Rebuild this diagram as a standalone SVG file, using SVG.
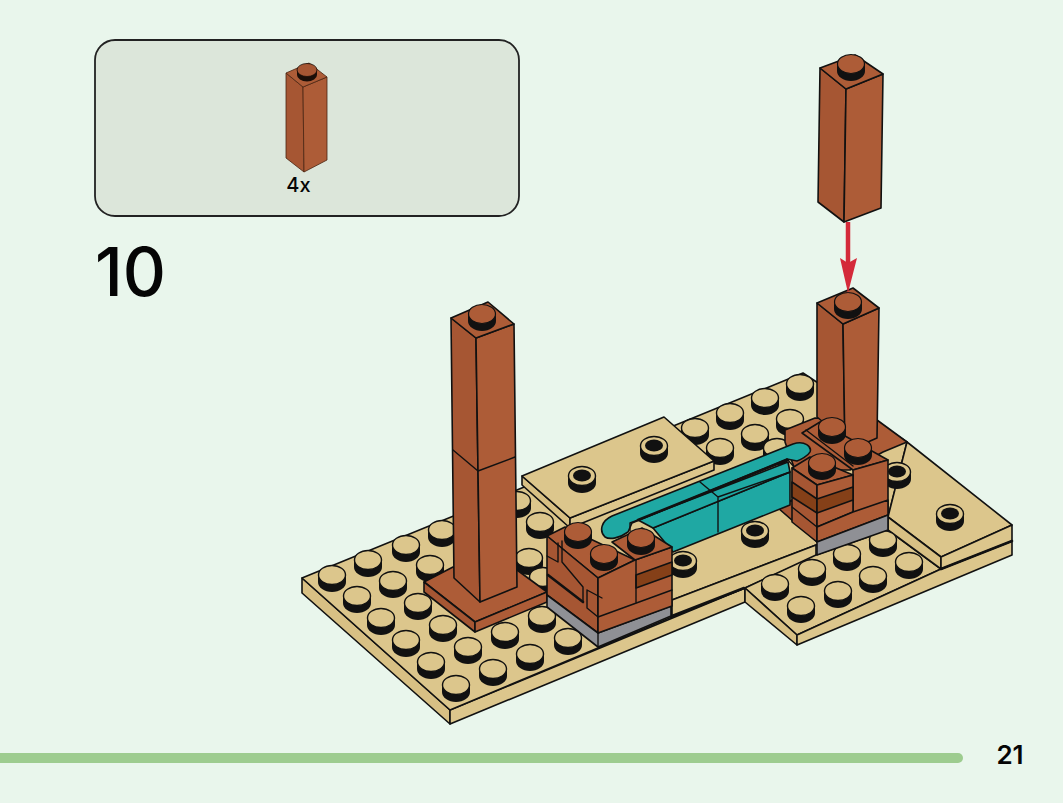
<svg xmlns="http://www.w3.org/2000/svg" width="1063" height="803" viewBox="0 0 1063 803">
<style>
.t{fill:#dcc68c}.ts{fill:#d8c084}.b{fill:#ad5c37}.bl{fill:#a65633}.bd{fill:#854018}.g{fill:#8f9095}.c{fill:#1fa8a3}
polygon,path.o{stroke:#111;stroke-width:1.6;stroke-linejoin:round}
.l{fill:none;stroke:#111;stroke-width:1.4;stroke-linecap:round;stroke-linejoin:round}
.h{fill:none;stroke:#111;stroke-width:2.6;stroke-linecap:round}
text{font-family:Inter,"Liberation Sans",sans-serif;fill:#050505}
</style>
<defs>
<g id="stud"><path d="M-14 0V7A14 10 0 0 0 14 7V0Z" fill="#111"/><ellipse rx="13.500" ry="9.500" fill="#dcc68c" stroke="#111" stroke-width="1.400"/></g>
<g id="tube"><path d="M-14 0V7A14 10 0 0 0 14 7V0Z" fill="#111"/><ellipse rx="13.500" ry="9.500" fill="#dcc68c" stroke="#111" stroke-width="1.400"/><ellipse cy="-.5" rx="9" ry="6" fill="#111"/></g>
<g id="bstud"><path d="M-14 0V7A14 10 0 0 0 14 7V0Z" fill="#111"/><ellipse rx="13.500" ry="9.500" fill="#ad5c37" stroke="#111" stroke-width="1.200"/></g>
</defs>
<rect width="1063" height="803" fill="#e9f6ec"/>
<g id="parts-panel">
<rect x="95" y="40" width="424" height="176" rx="20" fill="#dce6da" stroke="#222" stroke-width="1.800"/>
<g id="inset-brick">
<polygon class="bl" points="286,73 303,87 304,172 286,158" style="stroke:#4a2412;stroke-width:.8"/>
<polygon class="b" points="303,87 327,77 327,160 304,172" style="stroke:#4a2412;stroke-width:.8"/>
<polygon class="b" points="286,73 309,63 327,77 303,87" style="stroke:#4a2412;stroke-width:.8"/>
<path d="M297 70V75A10 6.500 0 0 0 317 75V70Z" fill="#1a0e08"/>
<ellipse cx="307" cy="70" rx="10" ry="6.500" fill="#a65633" stroke="#1a0e08" stroke-width=".8"/>
</g>
<text x="298.500" y="192" font-size="20" font-weight="500" text-anchor="middle">4x</text>
</g>
<text id="step-number" x="95" y="296" font-size="67" font-weight="500">10</text>
<g id="footer">
<rect x="-10" y="753" width="973" height="10" rx="5" fill="#9dcc8f"/>
<text x="1010" y="764" font-size="26" font-weight="600" text-anchor="middle">21</text>
</g>
<g id="baseplate">
<polygon class="ts" points="302,578 450,710 450,724 302,593"/>
<polygon class="t" points="450,710 745,588 745,602 450,724"/>
<polygon class="t" points="302,578 803,373 907,442 888,517 816,545 672,600 672,617 450,710"/>
<polygon class="t" points="672,600 816,545 816,556 745,588 672,617"/>
<path class="h" d="M672 616 744 588"/>
</g>
<g id="plate-lower">
<polygon class="t" points="745,588 816,555 888,530 941,569 797,635"/>
<polygon class="ts" points="745,588 797,635 797,645 745,602"/>
<polygon class="t" points="797,635 941,569 1012,541 1012,555 797,645"/>
</g>
<g id="plate-right">
<polygon class="t" points="907,442 1012,525 941,557 888,517"/>
<polygon class="ts" points="888,517 941,557 941,569 888,530"/>
<polygon class="t" points="941,557 1012,525 1012,541 941,569"/>
<path class="h" d="M941 569 1012 541"/>
</g>
<g id="studs">
<use href="#stud" x="332" y="575"/><use href="#stud" x="368" y="560"/><use href="#stud" x="406" y="545"/><use href="#stud" x="442" y="530"/>
<use href="#stud" x="357" y="596"/><use href="#stud" x="393" y="581"/><use href="#stud" x="430" y="565"/>
<use href="#stud" x="381" y="618"/><use href="#stud" x="418" y="603"/>
<use href="#stud" x="406" y="640"/><use href="#stud" x="443" y="625"/>
<use href="#stud" x="431" y="662"/><use href="#stud" x="468" y="647"/><use href="#stud" x="505" y="632"/><use href="#stud" x="542" y="616"/>
<use href="#stud" x="456" y="685"/><use href="#stud" x="493" y="669"/><use href="#stud" x="530" y="654"/><use href="#stud" x="568" y="638"/>
<use href="#stud" x="540" y="522"/><use href="#stud" x="529" y="558"/><use href="#stud" x="517" y="501"/><use href="#stud" x="543" y="577"/>
<use href="#stud" x="800" y="384"/><use href="#stud" x="765" y="398"/><use href="#stud" x="730" y="413"/><use href="#stud" x="695" y="428"/>
<use href="#stud" x="790" y="419"/><use href="#stud" x="755" y="434"/><use href="#stud" x="720" y="448"/>
<use href="#stud" x="777" y="448"/>
<use href="#stud" x="775" y="584"/><use href="#stud" x="812" y="569"/><use href="#stud" x="847" y="554"/><use href="#stud" x="883" y="540"/>
<use href="#stud" x="801" y="606"/><use href="#stud" x="838" y="591"/><use href="#stud" x="873" y="576"/><use href="#stud" x="909" y="562"/>
<use href="#tube" x="755" y="531"/><use href="#tube" x="683" y="561"/><use href="#tube" x="897" y="472"/><use href="#tube" x="950" y="514"/>
</g>
<g id="tile">
<polygon class="ts" points="522,476 570,518 570,528 522,485"/>
<polygon class="t" points="570,518 714,461 714,470 570,528"/>
<polygon class="t" points="522,476 664,417 714,461 570,518"/>
<use href="#tube" x="582" y="476"/><use href="#tube" x="654" y="446"/>
</g>
<g id="base-left">
<polygon class="b" points="424,582 453,567 517,570 547,592 475,622"/>
<polygon class="bl" points="424,582 475,622 475,632 424,592"/>
<polygon class="b" points="475,622 547,592 547,602 475,632"/>
</g>
<g id="pillar-left">
<polygon class="bl" points="451,318 476,338 480,602 454,578"/>
<polygon class="b" points="476,338 514,324 517,587 480,602"/>
<polygon class="b" points="451,318 488,302 514,324 476,338"/>
<path class="l" d="M453 450 478 471 515 457"/>
<use href="#bstud" x="482" y="314"/>
</g>
<g id="base-right">
<polygon class="b" points="785,430 815,418 877,420 907,442 883,452 850,470 795,470 785,442"/>
</g>
<g id="pillar-right">
<polygon class="bl" points="817,303 843,324 845,440 817,417"/>
<polygon class="b" points="843,324 879,308 877,438 845,452"/>
<polygon class="b" points="817,303 853,288 879,308 843,324"/>
<use href="#bstud" x="848" y="302"/>
</g>
<g id="block-right-back">
<polygon class="bl" points="778,508 792,500 817,527 817,542"/>
<polygon class="b" points="802,433 820,422 888,460 853,470"/>
<polygon class="b" points="853,470 888,460 888,515 853,528"/>
<path class="l" d="M806 430 853 466"/>
<use href="#bstud" x="832" y="427"/><use href="#bstud" x="858" y="448"/>
</g>
<g id="teal-slider">
<polygon class="c" points="653,528 790,472 790,505 673,552"/>
<polygon class="c" points="638,520 788,462 790,472 653,528"/>
<path class="o c" d="M612 516 793 444C805 440 812 447 810 452 808 456 800 460 797 461L787 459 632 523 628 532C620 538 610 540 605 537 599 531 601 521 612 516Z"/>
<path class="h" d="M638 520 787 460"/>
<path class="l" d="M700 482 718 497V532M718 497 790 472M630 523V531M638 520 630 523M787 459 795 468"/>
</g>
<g id="block-right-front">
<polygon class="b" points="792,468 810,457 853,475 817,485"/>
<polygon class="bl" points="792,468 817,485 817,542 792,522"/>
<polygon class="b" points="817,485 853,475 853,512 817,527"/>
<polygon class="b" points="817,527 853,512 888,500 888,515 817,542"/>
<polygon class="bd" points="792,482 817,499 817,513 792,497"/>
<polygon class="bd" points="817,499 853,487 853,500 817,513"/>
<polygon class="g" points="817,542 888,515 888,530 817,555"/>
<path class="l" d="M792 507 817 527"/>
<use href="#bstud" x="822" y="463"/>
</g>
<g id="block-left">
<polygon class="b" points="547,536 565,527 635,560 598,578"/>
<polygon class="bl" points="547,536 598,578 598,633 547,595"/>
<polygon class="g" points="547,595 598,633 671,606 671,616 598,647 547,607"/>
<polygon class="b" points="598,578 635,560 672,547 672,606 598,633"/>
<polygon class="b" points="612,542 642,528 672,547 635,560"/>
<polygon class="bd" points="636,575 672,562 672,575 636,588"/>
<path class="l" d="M636 560V602M598 617 672 590M598 633V647M558 543V562M562 541V562M547 556 558 562M562 562 583 587V602M587 590V608L598 617M587 590 602 598"/>
<path class="h" d="M548 575 583 602"/>
<use href="#bstud" x="578" y="532"/><use href="#bstud" x="604" y="554"/><use href="#bstud" x="641" y="538"/>
</g>
<g id="falling-brick">
<polygon class="bl" points="820,68 846,89 844,222 818,202"/>
<polygon class="b" points="846,89 883,74 881,208 844,222"/>
<polygon class="b" points="820,68 855,55 883,74 846,89"/>
<use href="#bstud" x="851" y="64"/>
</g>
<g id="connectors">
<path d="M848 222V270" stroke="#d42a3a" stroke-width="4.500" fill="none"/>
<path d="M840 258 848 263 857 258 848 293Z" fill="#d42a3a"/>
</g>
</svg>
